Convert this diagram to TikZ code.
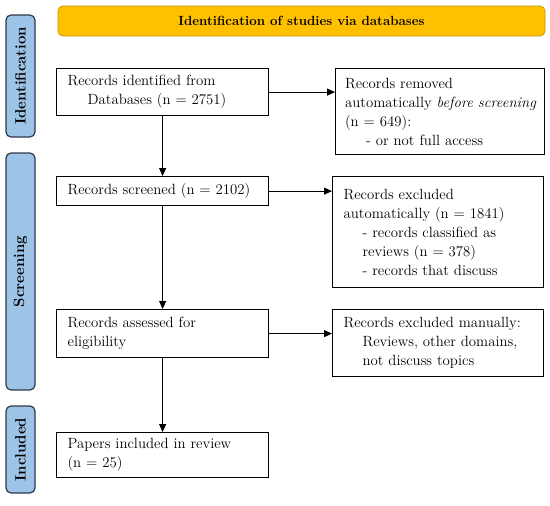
\documentclass[tikz,border=0pt]{standalone}
\usepackage{fontspec}
\usetikzlibrary{arrows.meta}
\definecolor{gold}{HTML}{FFC000}
\definecolor{goldedge}{HTML}{C89600}
\definecolor{sideblue}{HTML}{9DC3E6}
\definecolor{sideedge}{HTML}{2F3A4A}
\tikzset{
  bx/.style={draw=black, line width=1.2pt, rectangle, inner xsep=11pt, inner ysep=0pt,
    align=left, font=\fontsize{14.8}{19}\selectfont, anchor=north west},
  side/.style={draw=sideedge, fill=sideblue, line width=1.2pt, rounded corners=5pt, rotate=90,
    font=\fontsize{15}{17}\selectfont\bfseries, inner sep=0pt},
  arr/.style={-{Triangle[length=8pt,width=7pt]}, line width=1.1pt},
}
\begin{document}
\begin{tikzpicture}[x=1pt,y=-1pt]
\useasboundingbox (0,0) rectangle (550,506);
% banner
\node[draw=goldedge, fill=gold, line width=0.8pt, rounded corners=5pt, minimum width=487pt, minimum height=30pt,
  font=\fontsize{13.3}{15}\selectfont\bfseries, inner sep=0pt] (ban) at (301.5,21) {Identification of studies via databases};
% side labels
\node[side, minimum width=122pt, minimum height=29pt] (sid) at (20.5,76) {Identification};
\node[side, minimum width=237pt, minimum height=29pt] (ssc) at (20.5,271.5) {Screening};
\node[side, minimum width=87pt, minimum height=29pt] (sin) at (20.5,449.5) {Included};
% boxes
\node[bx, minimum width=212pt, minimum height=47pt, text width=190pt] (b1) at (56,68)
  {Records identified from\\\hspace*{20pt}Databases (n = 2751)};
\node[bx, minimum width=209pt, minimum height=86pt, text width=190pt, inner xsep=9.5pt] (b2) at (335,68)
  {Records removed\\\makebox[0pt][l]{automatically \textit{before screening}}\\(n = 649):\\\hspace*{21pt}- or not full access};
\node[bx, minimum width=212pt, minimum height=29pt, text width=190pt] (b3) at (56,176)
  {Records screened (n = 2102)};
\node[bx, minimum width=211pt, minimum height=111pt, text width=189pt, inner xsep=11pt] (b4) at (332,176)
  {Records excluded\\automatically (n = 1841)\\\hspace*{19pt}- records classified as\\\hspace*{19pt}reviews (n = 378)\\\hspace*{19pt}- records that discuss};
\node[bx, minimum width=212pt, minimum height=48pt, text width=190pt] (b5) at (56,309)
  {Records assessed for\\eligibility};
\node[bx, minimum width=211pt, minimum height=67pt, text width=189pt, inner xsep=11pt] (b6) at (332,309)
  {Records excluded manually:\\\hspace*{19pt}Reviews, other domains,\\\hspace*{19pt}not discuss topics};
\node[bx, minimum width=212pt, minimum height=45pt, text width=190pt] (b7) at (56,432)
  {Papers included in review\\(n = 25)};
% arrows
\draw[arr] (b1.east) -- (b1.east -| b2.west);
\draw[arr] (b3.east) -- (b3.east -| b4.west);
\draw[arr] (b5.east) -- (b5.east -| b6.west);
\draw[arr] (b1.south) -- (b3.north);
\draw[arr] (b3.south) -- (b5.north);
\draw[arr] (b5.south) -- (b7.north);
\end{tikzpicture}
\end{document}
